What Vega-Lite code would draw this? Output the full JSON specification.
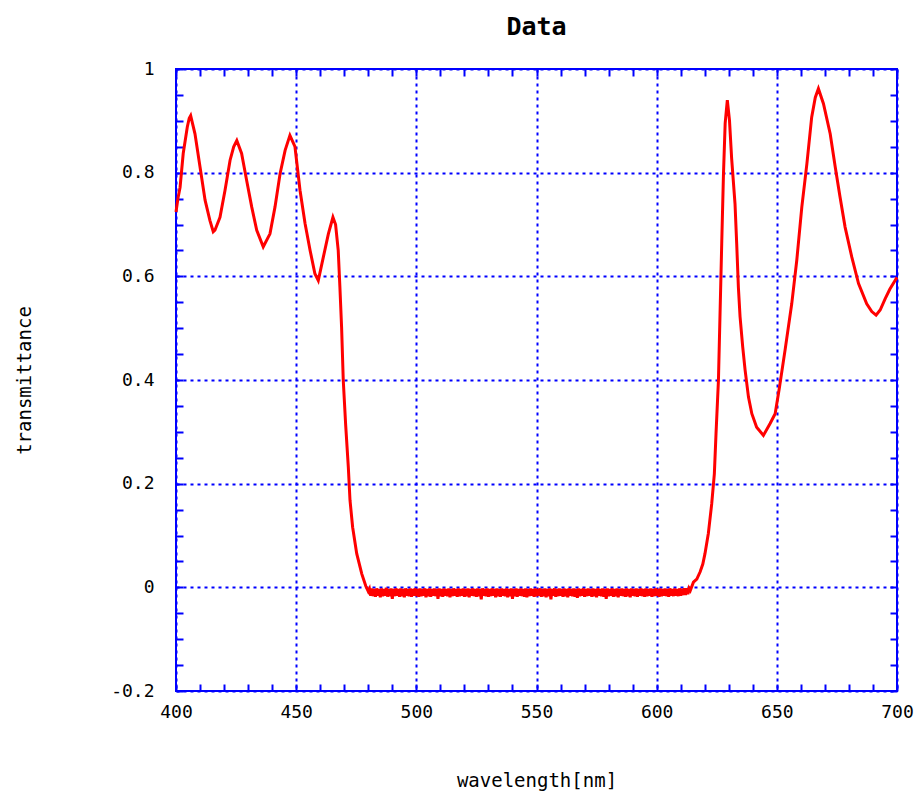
{
  "$schema": "https://vega.github.io/schema/vega-lite/v6.json",
  "width": 721,
  "height": 622,
  "autosize": {"type": "none"},
  "padding": {"left": 176, "top": 69, "right": 23, "bottom": 105},
  "background": "white",
  "title": {"text": "Data", "font": "DejaVu Sans Mono", "fontSize": 25, "fontWeight": "bold", "color": "black", "offset": 20, "anchor": "middle"},
  "config": {
    "view": {"stroke": "#0000ff", "strokeWidth": 2},
    "axis": {"labelFont": "DejaVu Sans Mono", "titleFont": "DejaVu Sans Mono", "labelColor": "black", "titleColor": "black", "titleFontWeight": "normal", "domain": false, "labelFlush": false, "labelOverlap": false, "labelBound": false}
  },
  "data": {"values": [
    {"wavelength": 400, "t": 0.724}, {"wavelength": 400.8, "t": 0.75}, {"wavelength": 401.7, "t": 0.772}, {"wavelength": 403, "t": 0.837}, {"wavelength": 404.7, "t": 0.888}, {"wavelength": 405.5, "t": 0.905}, {"wavelength": 406.1, "t": 0.91}, {"wavelength": 407.9, "t": 0.875}, {"wavelength": 410, "t": 0.811}, {"wavelength": 412.1, "t": 0.747}, {"wavelength": 414.1, "t": 0.708}, {"wavelength": 415.5, "t": 0.686}, {"wavelength": 416.2, "t": 0.689}, {"wavelength": 418.3, "t": 0.714}, {"wavelength": 420.4, "t": 0.766}, {"wavelength": 422.5, "t": 0.824}, {"wavelength": 424, "t": 0.85}, {"wavelength": 425.3, "t": 0.862}, {"wavelength": 427.3, "t": 0.837}, {"wavelength": 429.4, "t": 0.785}, {"wavelength": 431.5, "t": 0.734}, {"wavelength": 433.6, "t": 0.689}, {"wavelength": 436.3, "t": 0.657}, {"wavelength": 439.1, "t": 0.682}, {"wavelength": 441.2, "t": 0.734}, {"wavelength": 443.3, "t": 0.798}, {"wavelength": 445.4, "t": 0.843}, {"wavelength": 447.4, "t": 0.872}, {"wavelength": 449.5, "t": 0.85}, {"wavelength": 451.6, "t": 0.766}, {"wavelength": 453.7, "t": 0.702}, {"wavelength": 455.8, "t": 0.65}, {"wavelength": 457.8, "t": 0.605}, {"wavelength": 459.2, "t": 0.592}, {"wavelength": 461.3, "t": 0.637}, {"wavelength": 463.4, "t": 0.682}, {"wavelength": 465.3, "t": 0.714}, {"wavelength": 466.4, "t": 0.7}, {"wavelength": 467.5, "t": 0.65}, {"wavelength": 468.2, "t": 0.579}, {"wavelength": 468.9, "t": 0.502}, {"wavelength": 469.6, "t": 0.399}, {"wavelength": 470.6, "t": 0.313}, {"wavelength": 471.7, "t": 0.232}, {"wavelength": 472.4, "t": 0.168}, {"wavelength": 473.5, "t": 0.116}, {"wavelength": 475.2, "t": 0.065}, {"wavelength": 477.3, "t": 0.026}, {"wavelength": 479, "t": 0.002}, {"wavelength": 480, "t": -0.008},
    {"wavelength": 480.5, "t": -0.003}, {"wavelength": 481, "t": -0.016}, {"wavelength": 481.5, "t": -0.002}, {"wavelength": 482, "t": -0.017}, {"wavelength": 482.5, "t": -0.003}, {"wavelength": 483, "t": -0.018}, {"wavelength": 483.5, "t": -0.002}, {"wavelength": 484, "t": -0.016}, {"wavelength": 484.5, "t": -0.003}, {"wavelength": 485, "t": -0.019},
    {"wavelength": 485.5, "t": -0.002}, {"wavelength": 486, "t": -0.017}, {"wavelength": 486.5, "t": -0.003}, {"wavelength": 487, "t": -0.016}, {"wavelength": 487.5, "t": -0.001}, {"wavelength": 488, "t": -0.018}, {"wavelength": 488.5, "t": -0.003}, {"wavelength": 489, "t": -0.017}, {"wavelength": 489.5, "t": -0.002}, {"wavelength": 490, "t": -0.022},
    {"wavelength": 490.5, "t": -0.003}, {"wavelength": 491, "t": -0.017}, {"wavelength": 491.5, "t": -0.002}, {"wavelength": 492, "t": -0.016}, {"wavelength": 492.5, "t": -0.003}, {"wavelength": 493, "t": -0.018}, {"wavelength": 493.5, "t": -0.002}, {"wavelength": 494, "t": -0.017}, {"wavelength": 494.5, "t": -0.003}, {"wavelength": 495, "t": -0.019},
    {"wavelength": 495.5, "t": -0.002}, {"wavelength": 496, "t": -0.016}, {"wavelength": 496.5, "t": -0.003}, {"wavelength": 497, "t": -0.017}, {"wavelength": 497.5, "t": -0.002}, {"wavelength": 498, "t": -0.018}, {"wavelength": 498.5, "t": -0.003}, {"wavelength": 499, "t": -0.016}, {"wavelength": 499.5, "t": -0.002}, {"wavelength": 500, "t": -0.017},
    {"wavelength": 500.5, "t": -0.003}, {"wavelength": 501, "t": -0.018}, {"wavelength": 501.5, "t": -0.002}, {"wavelength": 502, "t": -0.017}, {"wavelength": 502.5, "t": -0.003}, {"wavelength": 503, "t": -0.016}, {"wavelength": 503.5, "t": -0.002}, {"wavelength": 504, "t": -0.019}, {"wavelength": 504.5, "t": -0.003}, {"wavelength": 505, "t": -0.017},
    {"wavelength": 505.5, "t": -0.002}, {"wavelength": 506, "t": -0.018}, {"wavelength": 506.5, "t": -0.003}, {"wavelength": 507, "t": -0.016}, {"wavelength": 507.5, "t": -0.002}, {"wavelength": 508, "t": -0.017}, {"wavelength": 508.5, "t": -0.003}, {"wavelength": 509, "t": -0.022}, {"wavelength": 509.5, "t": -0.002}, {"wavelength": 510, "t": -0.017},
    {"wavelength": 510.5, "t": -0.003}, {"wavelength": 511, "t": -0.018}, {"wavelength": 511.5, "t": -0.002}, {"wavelength": 512, "t": -0.016}, {"wavelength": 512.5, "t": -0.003}, {"wavelength": 513, "t": -0.017}, {"wavelength": 513.5, "t": -0.002}, {"wavelength": 514, "t": -0.019}, {"wavelength": 514.5, "t": -0.003}, {"wavelength": 515, "t": -0.017},
    {"wavelength": 515.5, "t": -0.002}, {"wavelength": 516, "t": -0.016}, {"wavelength": 516.5, "t": -0.003}, {"wavelength": 517, "t": -0.018}, {"wavelength": 517.5, "t": -0.002}, {"wavelength": 518, "t": -0.017}, {"wavelength": 518.5, "t": -0.003}, {"wavelength": 519, "t": -0.016}, {"wavelength": 519.5, "t": -0.002}, {"wavelength": 520, "t": -0.018},
    {"wavelength": 520.5, "t": -0.003}, {"wavelength": 521, "t": -0.017}, {"wavelength": 521.5, "t": -0.002}, {"wavelength": 522, "t": -0.019}, {"wavelength": 522.5, "t": -0.003}, {"wavelength": 523, "t": -0.016}, {"wavelength": 523.5, "t": -0.002}, {"wavelength": 524, "t": -0.017}, {"wavelength": 524.5, "t": -0.003}, {"wavelength": 525, "t": -0.018},
    {"wavelength": 525.5, "t": -0.002}, {"wavelength": 526, "t": -0.017}, {"wavelength": 526.5, "t": -0.003}, {"wavelength": 527, "t": -0.023}, {"wavelength": 527.5, "t": -0.002}, {"wavelength": 528, "t": -0.016}, {"wavelength": 528.5, "t": -0.003}, {"wavelength": 529, "t": -0.017}, {"wavelength": 529.5, "t": -0.002}, {"wavelength": 530, "t": -0.018},
    {"wavelength": 530.5, "t": -0.003}, {"wavelength": 531, "t": -0.017}, {"wavelength": 531.5, "t": -0.002}, {"wavelength": 532, "t": -0.016}, {"wavelength": 532.5, "t": -0.003}, {"wavelength": 533, "t": -0.019}, {"wavelength": 533.5, "t": -0.002}, {"wavelength": 534, "t": -0.017}, {"wavelength": 534.5, "t": -0.003}, {"wavelength": 535, "t": -0.018},
    {"wavelength": 535.5, "t": -0.002}, {"wavelength": 536, "t": -0.016}, {"wavelength": 536.5, "t": -0.003}, {"wavelength": 537, "t": -0.017}, {"wavelength": 537.5, "t": -0.002}, {"wavelength": 538, "t": -0.019}, {"wavelength": 538.5, "t": -0.003}, {"wavelength": 539, "t": -0.017}, {"wavelength": 539.5, "t": -0.002}, {"wavelength": 540, "t": -0.022},
    {"wavelength": 540.5, "t": -0.003}, {"wavelength": 541, "t": -0.017}, {"wavelength": 541.5, "t": -0.002}, {"wavelength": 542, "t": -0.018}, {"wavelength": 542.5, "t": -0.003}, {"wavelength": 543, "t": -0.016}, {"wavelength": 543.5, "t": -0.002}, {"wavelength": 544, "t": -0.017}, {"wavelength": 544.5, "t": -0.003}, {"wavelength": 545, "t": -0.018},
    {"wavelength": 545.5, "t": -0.002}, {"wavelength": 546, "t": -0.019}, {"wavelength": 546.5, "t": -0.003}, {"wavelength": 547, "t": -0.017}, {"wavelength": 547.5, "t": -0.002}, {"wavelength": 548, "t": -0.016}, {"wavelength": 548.5, "t": -0.003}, {"wavelength": 549, "t": -0.018}, {"wavelength": 549.5, "t": -0.002}, {"wavelength": 550, "t": -0.017},
    {"wavelength": 550.5, "t": -0.003}, {"wavelength": 551, "t": -0.016}, {"wavelength": 551.5, "t": -0.002}, {"wavelength": 552, "t": -0.018}, {"wavelength": 552.5, "t": -0.003}, {"wavelength": 553, "t": -0.017}, {"wavelength": 553.5, "t": -0.002}, {"wavelength": 554, "t": -0.019}, {"wavelength": 554.5, "t": -0.003}, {"wavelength": 555, "t": -0.017},
    {"wavelength": 555.5, "t": -0.002}, {"wavelength": 556, "t": -0.023}, {"wavelength": 556.5, "t": -0.003}, {"wavelength": 557, "t": -0.016}, {"wavelength": 557.5, "t": -0.002}, {"wavelength": 558, "t": -0.018}, {"wavelength": 558.5, "t": -0.003}, {"wavelength": 559, "t": -0.017}, {"wavelength": 559.5, "t": -0.002}, {"wavelength": 560, "t": -0.016},
    {"wavelength": 560.5, "t": -0.003}, {"wavelength": 561, "t": -0.018}, {"wavelength": 561.5, "t": -0.002}, {"wavelength": 562, "t": -0.017}, {"wavelength": 562.5, "t": -0.003}, {"wavelength": 563, "t": -0.019}, {"wavelength": 563.5, "t": -0.002}, {"wavelength": 564, "t": -0.016}, {"wavelength": 564.5, "t": -0.003}, {"wavelength": 565, "t": -0.017},
    {"wavelength": 565.5, "t": -0.002}, {"wavelength": 566, "t": -0.018}, {"wavelength": 566.5, "t": -0.003}, {"wavelength": 567, "t": -0.02}, {"wavelength": 567.5, "t": -0.002}, {"wavelength": 568, "t": -0.017}, {"wavelength": 568.5, "t": -0.003}, {"wavelength": 569, "t": -0.016}, {"wavelength": 569.5, "t": -0.002}, {"wavelength": 570, "t": -0.018},
    {"wavelength": 570.5, "t": -0.003}, {"wavelength": 571, "t": -0.017}, {"wavelength": 571.5, "t": -0.002}, {"wavelength": 572, "t": -0.016}, {"wavelength": 572.5, "t": -0.003}, {"wavelength": 573, "t": -0.018}, {"wavelength": 573.5, "t": -0.002}, {"wavelength": 574, "t": -0.017}, {"wavelength": 574.5, "t": -0.003}, {"wavelength": 575, "t": -0.019},
    {"wavelength": 575.5, "t": -0.002}, {"wavelength": 576, "t": -0.016}, {"wavelength": 576.5, "t": -0.003}, {"wavelength": 577, "t": -0.017}, {"wavelength": 577.5, "t": -0.002}, {"wavelength": 578, "t": -0.018}, {"wavelength": 578.5, "t": -0.003}, {"wavelength": 579, "t": -0.022}, {"wavelength": 579.5, "t": -0.002}, {"wavelength": 580, "t": -0.017},
    {"wavelength": 580.5, "t": -0.003}, {"wavelength": 581, "t": -0.016}, {"wavelength": 581.5, "t": -0.002}, {"wavelength": 582, "t": -0.018}, {"wavelength": 582.5, "t": -0.003}, {"wavelength": 583, "t": -0.017}, {"wavelength": 583.5, "t": -0.002}, {"wavelength": 584, "t": -0.019}, {"wavelength": 584.5, "t": -0.003}, {"wavelength": 585, "t": -0.016},
    {"wavelength": 585.5, "t": -0.002}, {"wavelength": 586, "t": -0.017}, {"wavelength": 586.5, "t": -0.003}, {"wavelength": 587, "t": -0.018}, {"wavelength": 587.5, "t": -0.002}, {"wavelength": 588, "t": -0.017}, {"wavelength": 588.5, "t": -0.003}, {"wavelength": 589, "t": -0.019}, {"wavelength": 589.5, "t": -0.002}, {"wavelength": 590, "t": -0.016},
    {"wavelength": 590.5, "t": -0.003}, {"wavelength": 591, "t": -0.017}, {"wavelength": 591.5, "t": -0.002}, {"wavelength": 592, "t": -0.018}, {"wavelength": 592.5, "t": -0.003}, {"wavelength": 593, "t": -0.016}, {"wavelength": 593.5, "t": -0.002}, {"wavelength": 594, "t": -0.017}, {"wavelength": 594.5, "t": -0.003}, {"wavelength": 595, "t": -0.018},
    {"wavelength": 595.5, "t": -0.002}, {"wavelength": 596, "t": -0.017}, {"wavelength": 596.5, "t": -0.003}, {"wavelength": 597, "t": -0.016}, {"wavelength": 597.5, "t": -0.002}, {"wavelength": 598, "t": -0.018}, {"wavelength": 598.5, "t": -0.003}, {"wavelength": 599, "t": -0.017}, {"wavelength": 599.5, "t": -0.002}, {"wavelength": 600, "t": -0.016},
    {"wavelength": 600.5, "t": -0.003}, {"wavelength": 601, "t": -0.018}, {"wavelength": 601.5, "t": -0.002}, {"wavelength": 602, "t": -0.017}, {"wavelength": 602.5, "t": -0.003}, {"wavelength": 603, "t": -0.016}, {"wavelength": 603.5, "t": -0.002}, {"wavelength": 604, "t": -0.017}, {"wavelength": 604.5, "t": -0.003}, {"wavelength": 605, "t": -0.018},
    {"wavelength": 605.5, "t": -0.002}, {"wavelength": 606, "t": -0.016}, {"wavelength": 606.5, "t": -0.003}, {"wavelength": 607, "t": -0.017}, {"wavelength": 607.5, "t": -0.002}, {"wavelength": 608, "t": -0.016}, {"wavelength": 608.5, "t": -0.003}, {"wavelength": 609, "t": -0.017}, {"wavelength": 609.5, "t": -0.002}, {"wavelength": 610, "t": -0.016},
    {"wavelength": 610.5, "t": -0.003}, {"wavelength": 611, "t": -0.015}, {"wavelength": 611.5, "t": -0.002}, {"wavelength": 612, "t": -0.015}, {"wavelength": 612.5, "t": -0.002}, {"wavelength": 613, "t": -0.013}, {"wavelength": 613.5, "t": -0.002}, {"wavelength": 614, "t": -0.006},
    {"wavelength": 615.3, "t": 0.01}, {"wavelength": 616.7, "t": 0.016}, {"wavelength": 618.1, "t": 0.03}, {"wavelength": 619.2, "t": 0.045}, {"wavelength": 620.1, "t": 0.065}, {"wavelength": 621.5, "t": 0.104}, {"wavelength": 622.9, "t": 0.161}, {"wavelength": 624, "t": 0.219}, {"wavelength": 624.7, "t": 0.297}, {"wavelength": 625.7, "t": 0.399}, {"wavelength": 626.4, "t": 0.534}, {"wavelength": 627.1, "t": 0.669}, {"wavelength": 627.8, "t": 0.798}, {"wavelength": 628.5, "t": 0.895}, {"wavelength": 629.4, "t": 0.94}, {"wavelength": 630.3, "t": 0.901}, {"wavelength": 631.2, "t": 0.827}, {"wavelength": 632.6, "t": 0.74}, {"wavelength": 633.3, "t": 0.663}, {"wavelength": 634, "t": 0.579}, {"wavelength": 634.7, "t": 0.522}, {"wavelength": 635.8, "t": 0.464}, {"wavelength": 636.8, "t": 0.419}, {"wavelength": 638.2, "t": 0.367}, {"wavelength": 639.6, "t": 0.335}, {"wavelength": 641.6, "t": 0.309}, {"wavelength": 644.4, "t": 0.293}, {"wavelength": 647.2, "t": 0.316}, {"wavelength": 649.3, "t": 0.335}, {"wavelength": 651.1, "t": 0.386}, {"wavelength": 653.5, "t": 0.46}, {"wavelength": 656.2, "t": 0.547}, {"wavelength": 658.3, "t": 0.631}, {"wavelength": 660.4, "t": 0.734}, {"wavelength": 662.5, "t": 0.817}, {"wavelength": 664.5, "t": 0.907}, {"wavelength": 666, "t": 0.945}, {"wavelength": 667.3, "t": 0.962}, {"wavelength": 669.4, "t": 0.933}, {"wavelength": 672.2, "t": 0.875}, {"wavelength": 674.3, "t": 0.811}, {"wavelength": 676.3, "t": 0.753}, {"wavelength": 678.4, "t": 0.695}, {"wavelength": 681.2, "t": 0.637}, {"wavelength": 684, "t": 0.586}, {"wavelength": 687.4, "t": 0.547}, {"wavelength": 689.5, "t": 0.532}, {"wavelength": 691.3, "t": 0.525}, {"wavelength": 693, "t": 0.535}, {"wavelength": 695.1, "t": 0.557}, {"wavelength": 697, "t": 0.575}, {"wavelength": 699.2, "t": 0.592}, {"wavelength": 700, "t": 0.598}
  ]},
  "resolve": {"axis": {"x": "independent", "y": "independent"}},
  "layer": [
    {
      "mark": {"type": "line", "opacity": 0},
      "encoding": {
        "x": {"field": "wavelength", "type": "quantitative", "scale": {"domain": [400, 700], "nice": false, "zero": false},
          "axis": {"orient": "top", "values": [400,410,420,430,440,450,460,470,480,490,500,510,520,530,540,550,560,570,580,590,600,610,620,630,640,650,660,670,680,690,700], "labels": false, "grid": false, "ticks": true, "tickSize": -7, "tickWidth": 2, "tickColor": "#0000ff", "title": null}},
        "y": {"field": "t", "type": "quantitative", "scale": {"domain": [-0.2, 1], "nice": false, "zero": false},
          "axis": {"orient": "right", "values": [-0.2,-0.15,-0.1,-0.05,0,0.05,0.1,0.15,0.2,0.25,0.3,0.35,0.4,0.45,0.5,0.55,0.6,0.65,0.7,0.75,0.8,0.85,0.9,0.95,1], "labels": false, "grid": false, "ticks": true, "tickSize": -7, "tickWidth": 2, "tickColor": "#0000ff", "title": null}}
      }
    },
    {
      "mark": {"type": "line", "opacity": 0},
      "encoding": {
        "x": {"field": "wavelength", "type": "quantitative", "scale": {"domain": [400, 700], "nice": false, "zero": false},
          "axis": {"orient": "bottom", "values": [400,410,420,430,440,450,460,470,480,490,500,510,520,530,540,550,560,570,580,590,600,610,620,630,640,650,660,670,680,690,700], "labels": false, "grid": false, "ticks": true, "tickSize": -7, "tickWidth": 2, "tickColor": "#0000ff", "title": null}},
        "y": {"field": "t", "type": "quantitative", "scale": {"domain": [-0.2, 1], "nice": false, "zero": false},
          "axis": {"orient": "left", "values": [-0.2,-0.15,-0.1,-0.05,0,0.05,0.1,0.15,0.2,0.25,0.3,0.35,0.4,0.45,0.5,0.55,0.6,0.65,0.7,0.75,0.8,0.85,0.9,0.95,1], "labels": false, "grid": false, "ticks": true, "tickSize": -7, "tickWidth": 2, "tickColor": "#0000ff", "title": null}}
      }
    },
    {
      "mark": {"type": "line", "color": "#ff0000", "strokeWidth": 3},
      "encoding": {
        "x": {"field": "wavelength", "type": "quantitative", "scale": {"domain": [400, 700], "nice": false, "zero": false},
          "axis": {"orient": "bottom", "values": [400,450,500,550,600,650,700], "ticks": false, "grid": true, "gridColor": "#0000ff", "gridWidth": 2, "gridDash": [3, 4], "labelFontSize": 18, "labelPadding": 12, "title": "wavelength[nm]", "titleFontSize": 19, "titlePadding": 50}},
        "y": {"field": "t", "type": "quantitative", "scale": {"domain": [-0.2, 1], "nice": false, "zero": false},
          "axis": {"orient": "left", "values": [-0.2,0,0.2,0.4,0.6,0.8,1], "labelExpr": "toString(datum.value)", "ticks": false, "grid": true, "gridColor": "#0000ff", "gridWidth": 2, "gridDash": [3, 4], "labelFontSize": 18, "labelPadding": 22, "title": "transmittance", "titleFontSize": 19, "titlePadding": 76}}
      }
    }
  ]
}
